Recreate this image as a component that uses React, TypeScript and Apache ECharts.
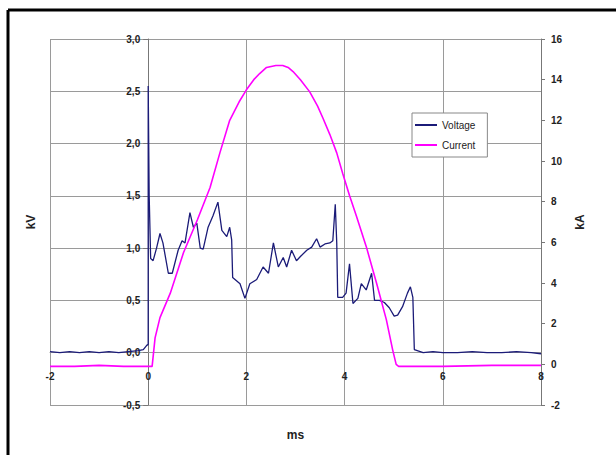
import React, { useEffect, useRef } from "react";
import * as echarts from "echarts";

// Time axis (ms) and voltage (kV)
const voltageMs = [
  -2, -1.8, -1.6, -1.4, -1.2, -1.0, -0.8, -0.6, -0.4, -0.2, -0.1, -0.03, 0, 0,
  0.02, 0.05, 0.1, 0.17, 0.24, 0.3, 0.41, 0.49, 0.61, 0.69, 0.75, 0.85, 0.92, 0.99,
  1.06, 1.12, 1.22, 1.32, 1.42, 1.5, 1.6, 1.66, 1.7, 1.72, 1.87, 1.97, 2.07, 2.21,
  2.34, 2.45, 2.55, 2.65, 2.75, 2.82, 2.92, 3.02, 3.1, 3.23, 3.33, 3.43, 3.5, 3.6,
  3.7, 3.76, 3.81, 3.84, 3.86, 3.96, 4.03, 4.1, 4.17, 4.27, 4.34, 4.44, 4.55, 4.61,
  4.71, 4.81, 4.91, 5.01, 5.08, 5.18, 5.28, 5.34, 5.39, 5.42, 5.6, 5.8, 6.0, 6.3,
  6.6, 6.9, 7.2, 7.5, 7.8, 8.0,
];
const voltageKv = [
  0.01, 0.0, 0.01, 0.0, 0.01, 0.0, 0.01, 0.0, 0.01, 0.02, 0.03, 0.07, 0.08, 2.55,
  1.5, 0.9, 0.88, 1.0, 1.14, 1.05, 0.76, 0.76, 0.98, 1.07, 1.05, 1.34, 1.2, 1.24,
  1.0, 0.99, 1.2, 1.31, 1.44, 1.17, 1.11, 1.2, 1.08, 0.72, 0.66, 0.52, 0.66, 0.7,
  0.82, 0.76, 1.05, 0.82, 0.91, 0.82, 0.98, 0.88, 0.92, 0.98, 1.01, 1.09, 1.01, 1.04,
  1.05, 1.07, 1.42, 1.05, 0.53, 0.53, 0.57, 0.85, 0.47, 0.52, 0.66, 0.6, 0.76, 0.5,
  0.5, 0.48, 0.43, 0.35, 0.36, 0.44, 0.57, 0.63, 0.53, 0.03, 0.0, 0.01, 0.0, 0.0,
  0.01, 0.0, 0.0, 0.01, 0.0, -0.01,
];

// Current (kA)
const currentMs = [
  -2, -1.5, -1, -0.5, 0, 0.08, 0.14, 0.24, 0.45, 0.72, 1.0, 1.26, 1.46, 1.66, 1.85,
  2.0, 2.15, 2.27, 2.41, 2.6, 2.74, 2.85, 2.95, 3.1, 3.29, 3.45, 3.56, 3.7, 3.84,
  3.96, 4.1, 4.24, 4.44, 4.65, 4.85, 4.98, 5.05, 5.1, 6, 7, 8,
];
const currentKa = [
  -0.1, -0.1, -0.05, -0.1, -0.1, -0.1, 1.3, 2.3, 3.5, 5.5, 7.1, 8.7, 10.4, 12.0, 12.9,
  13.5, 14.0, 14.3, 14.6, 14.7, 14.7, 14.6, 14.4, 14.0, 13.4, 12.7, 12.1, 11.3, 10.4,
  9.4, 8.3, 7.3, 5.8, 4.0, 2.2, 0.7, 0.0, -0.1, -0.1, -0.05, -0.05,
];

const seriesNames = ["Voltage", "Current"];

const FONT = "'Liberation Sans', Arial, sans-serif";

export default function App() {
  const ref = useRef<HTMLDivElement>(null);
  useEffect(() => {
    if (!ref.current) return;
    const chart = echarts.init(ref.current, undefined, { renderer: "svg" });
    const gridColor = "#9a9a9a";
    const labelStyle = { fontFamily: FONT, fontSize: 10, fontWeight: "bold" as const, color: "#222" };
    // grid geometry: x -2..8 over 491px, kV -0.5..3 over 366px
    const gridLeft = 50;
    const gridRight = 75;
    const gridTop = 39;
    const gridBottom = 50;
    const plotW = 616 - gridLeft - gridRight;
    const plotH = 455 - gridTop - gridBottom;
    const yAxisOffset = -(plotW * 2) / 10; // puts kV axis at 0 ms
    const xAxisOffset = -(plotH * 0.5) / 3.5; // puts ms axis at 0 kV
    chart.setOption({
      animation: false,
      backgroundColor: "#fff",
      textStyle: { fontFamily: FONT },
      grid: {
        left: gridLeft,
        right: gridRight,
        top: gridTop,
        bottom: gridBottom,
        containLabel: false,
        outerBoundsMode: "none",
      },
      legend: {
        orient: "vertical",
        left: 412,
        top: 113,
        data: seriesNames,
        icon: "rect",
        itemWidth: 22,
        itemHeight: 2,
        itemGap: 10,
        padding: [7, 12, 7, 3],
        backgroundColor: "#fff",
        borderColor: "#888",
        borderWidth: 1,
        borderRadius: 0,
        textStyle: { fontFamily: FONT, fontSize: 10, color: "#222" },
      },
      xAxis: {
        type: "value",
        min: -2,
        max: 8,
        interval: 2,
        position: "bottom",
        offset: xAxisOffset,
        name: "ms",
        nameLocation: "middle",
        nameGap: 76,
        nameTextStyle: { fontFamily: FONT, fontSize: 12, fontWeight: "bold", color: "#222" },
        axisLine: { show: true, onZero: false, lineStyle: { color: gridColor, width: 1 } },
        axisTick: { show: false },
        axisLabel: { ...labelStyle, margin: 19 },
        splitLine: { show: true, lineStyle: { color: gridColor, width: 1 } },
      },
      yAxis: [
        {
          type: "value",
          min: -0.5,
          max: 3,
          interval: 0.5,
          position: "left",
          offset: yAxisOffset,
          name: "kV",
          nameLocation: "middle",
          nameRotate: 90,
          nameGap: 111,
          nameTextStyle: { fontFamily: FONT, fontSize: 12, fontWeight: "bold", color: "#222" },
          axisLine: { show: true, onZero: false, lineStyle: { color: "#777", width: 1 } },
          axisTick: { show: true, length: 5, lineStyle: { color: "#777" } },
          axisLabel: {
            ...labelStyle,
            margin: 8,
            formatter: (v: number) => v.toFixed(1).replace(".", ","),
          },
          splitLine: { show: true, lineStyle: { color: gridColor, width: 1 } },
        },
        {
          type: "value",
          min: -2,
          max: 16,
          interval: 2,
          position: "right",
          name: "kA",
          nameLocation: "middle",
          nameRotate: 90,
          nameGap: 33,
          nameTextStyle: { fontFamily: FONT, fontSize: 12, fontWeight: "bold", color: "#222" },
          axisLine: { show: true, onZero: false, lineStyle: { color: "#777", width: 1 } },
          axisTick: { show: true, length: 4, lineStyle: { color: "#777" } },
          axisLabel: { ...labelStyle, margin: 10 },
          splitLine: { show: false },
        },
      ],
      series: [
        {
          name: seriesNames[0],
          type: "line",
          yAxisIndex: 0,
          showSymbol: false,
          symbol: "none",
          color: "#1b1b78",
          lineStyle: { color: "#1b1b78", width: 1.3 },
          data: voltageMs.map((t, i) => [t, voltageKv[i]]),
        },
        {
          name: seriesNames[1],
          type: "line",
          yAxisIndex: 1,
          showSymbol: false,
          symbol: "none",
          color: "#ff00ff",
          lineStyle: { color: "#ff00ff", width: 1.6 },
          data: currentMs.map((t, i) => [t, currentKa[i]]),
        },
      ],
      graphic: [
        {
          type: "line",
          silent: true,
          z: 100,
          shape: { x1: 8, y1: 10, x2: 616, y2: 10 },
          style: { stroke: "#000", lineWidth: 3 },
        },
        {
          type: "line",
          silent: true,
          z: 100,
          shape: { x1: 8, y1: 10, x2: 8, y2: 455 },
          style: { stroke: "#000", lineWidth: 3 },
        },
      ],
    });
    return () => chart.dispose();
  }, []);
  return (
    <div
      ref={ref}
      style={{ position: "absolute", left: 0, top: 0, width: 616, height: 455 }}
    />
  );
}
